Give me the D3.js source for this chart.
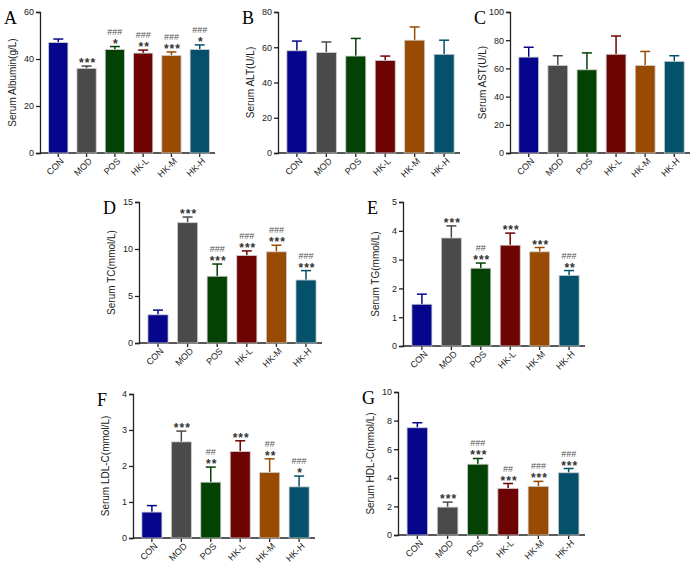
<!DOCTYPE html>
<html><head><meta charset="utf-8">
<script src="https://cdn.jsdelivr.net/npm/d3@7"></script>
<style>body{margin:0;background:#fff}</style>
</head><body>
<div class="canvas"></div>
<script>
var groups = ["CON", "MOD", "POS", "HK-L", "HK-M", "HK-H"];
var colors = ["#06068c", "#4a4a4a", "#034203", "#6e0303", "#9a4b03", "#05506a"];

var albumin = [47, 36, 44, 42.5, 41.5, 44];
var albuminErr = [1.5, 1, 1.3, 1.3, 1.5, 2];
var albuminMark = [["", ""], ["", "***"], ["###", "*"], ["###", "**"], ["###", "***"], ["###", "*"]];
var alt = [58, 57, 55, 52.5, 64, 56];
var altErr = [5.5, 6, 10, 2.5, 7.5, 8];
var ast = [68, 62, 59, 70, 62, 65];
var astErr = [7, 7, 12, 13, 10, 4];
var tc = [3, 12.8, 7.1, 9.3, 9.7, 6.7];
var tcErr = [0.5, 0.6, 1.3, 0.5, 0.7, 1];
var tcMark = [["", ""], ["", "***"], ["###", "***"], ["###", "***"], ["###", "***"], ["###", "***"]];
var tg = [1.45, 3.75, 2.7, 3.5, 3.27, 2.45];
var tgErr = [0.35, 0.42, 0.18, 0.42, 0.15, 0.17];
var tgMark = [["", ""], ["", "***"], ["##", "***"], ["", "***"], ["", "***"], ["###", "**"]];
var ldl = [0.72, 2.67, 1.55, 2.4, 1.82, 1.42];
var ldlErr = [0.18, 0.3, 0.42, 0.3, 0.38, 0.3];
var ldlMark = [["", ""], ["", "***"], ["##", "**"], ["", "***"], ["##", "**"], ["###", "*"]];
var hdl = [7.5, 1.95, 4.95, 3.25, 3.4, 4.35];
var hdlErr = [0.35, 0.35, 0.4, 0.35, 0.35, 0.3];
var hdlMark = [["", ""], ["", "***"], ["###", "***"], ["##", "***"], ["###", "***"], ["###", "***"]];

var svg = d3.select(".canvas").append("svg").attr("width", 700).attr("height", 569);

function panel(o) {
    var g = svg.append("g");
    var y = d3.scaleLinear().domain([0, o.max]).range([o.bottom, o.top]);
    var x = d3.scaleBand().domain(groups).range([o.left + 3, o.right]).paddingInner(0.32).paddingOuter(0.2);
    g.append("text").attr("x", o.left - 36).attr("y", o.top + 12)
        .attr("font-family", "Liberation Serif").attr("font-size", 18).text(o.letter);
    var ya = g.append("g").attr("transform", "translate(" + o.left + ",0)")
        .call(d3.axisLeft(y).ticks(o.ticks).tickSize(4).tickPadding(2));
    var xa = g.append("g").attr("transform", "translate(0," + o.bottom + ")")
        .call(d3.axisBottom(x).tickSize(4).tickPadding(2).tickSizeOuter(0));
    [ya, xa].forEach(function(a) {
        a.selectAll("path,line").attr("stroke", "#222").attr("stroke-width", 1.3);
        a.selectAll("text").attr("font-family", "Liberation Sans").attr("font-size", 9).attr("fill", "#222");
    });
    xa.select(".domain").attr("d", "M" + o.left + ",0H" + o.right);
    xa.selectAll("text").attr("text-anchor", "end").attr("dx", "-0.2em").attr("dy", "0.5em")
        .attr("transform", "rotate(-45)");
    g.append("text").attr("transform", "translate(" + (o.left - 24) + "," + ((o.top + o.bottom) / 2) + ") rotate(-90)")
        .attr("text-anchor", "middle").attr("font-family", "Liberation Sans").attr("font-size", 10)
        .attr("fill", "#222").text(o.title);
    groups.forEach(function(d, i) {
        var cx = x(d) + x.bandwidth() / 2;
        var top = y(o.values[i] + o.errs[i]);
        g.append("line").attr("x1", cx).attr("x2", cx).attr("y1", y(o.values[i])).attr("y2", top)
            .attr("stroke", colors[i]).attr("stroke-width", 1.5);
        g.append("line").attr("x1", cx - 5).attr("x2", cx + 5).attr("y1", top).attr("y2", top)
            .attr("stroke", colors[i]).attr("stroke-width", 1.5);
        g.append("rect").attr("x", x(d)).attr("width", x.bandwidth())
            .attr("y", y(o.values[i])).attr("height", o.bottom - y(o.values[i]))
            .attr("fill", colors[i]).attr("stroke", "#ccc").attr("stroke-width", 0.8);
        if (o.marks) {
            var m = o.marks[i];
            g.append("text").attr("x", cx + 1).attr("y", top + 1).attr("text-anchor", "middle")
                .attr("font-family", "Liberation Sans").attr("font-size", 12).attr("font-weight", "bold")
                .attr("letter-spacing", 1).attr("fill", "#333").text(m[1]);
            g.append("text").attr("x", cx).attr("y", top - 12).attr("text-anchor", "middle")
                .attr("font-family", "Liberation Sans").attr("font-size", 9)
                .attr("fill", "#555").text(m[0]);
        }
    });
}

panel({letter: "A", left: 40, right: 215, top: 12, bottom: 153, max: 60, ticks: 3, title: "Serum Albumin(g/L)", values: albumin, errs: albuminErr, marks: albuminMark});
panel({letter: "B", left: 278, right: 460, top: 12, bottom: 153, max: 80, ticks: 4, title: "Serum ALT(U/L)", values: alt, errs: altErr});
panel({letter: "C", left: 510, right: 690, top: 12, bottom: 153, max: 100, ticks: 5, title: "Serum AST(U/L)", values: ast, errs: astErr});
panel({letter: "D", left: 139, right: 322, top: 202, bottom: 343, max: 15, ticks: 3, title: "Serum TC(mmol/L)", values: tc, errs: tcErr, marks: tcMark});
panel({letter: "E", left: 403, right: 585, top: 202, bottom: 346, max: 5, ticks: 5, title: "Serum TG(mmol/L)", values: tg, errs: tgErr, marks: tgMark});
panel({letter: "F", left: 133, right: 315, top: 394, bottom: 538, max: 4, ticks: 4, title: "Serum LDL-C(mmol/L)", values: ldl, errs: ldlErr, marks: ldlMark});
panel({letter: "G", left: 398, right: 585, top: 392, bottom: 535, max: 10, ticks: 5, title: "Serum HDL-C(mmol/L)", values: hdl, errs: hdlErr, marks: hdlMark});
</script>
</body></html>
